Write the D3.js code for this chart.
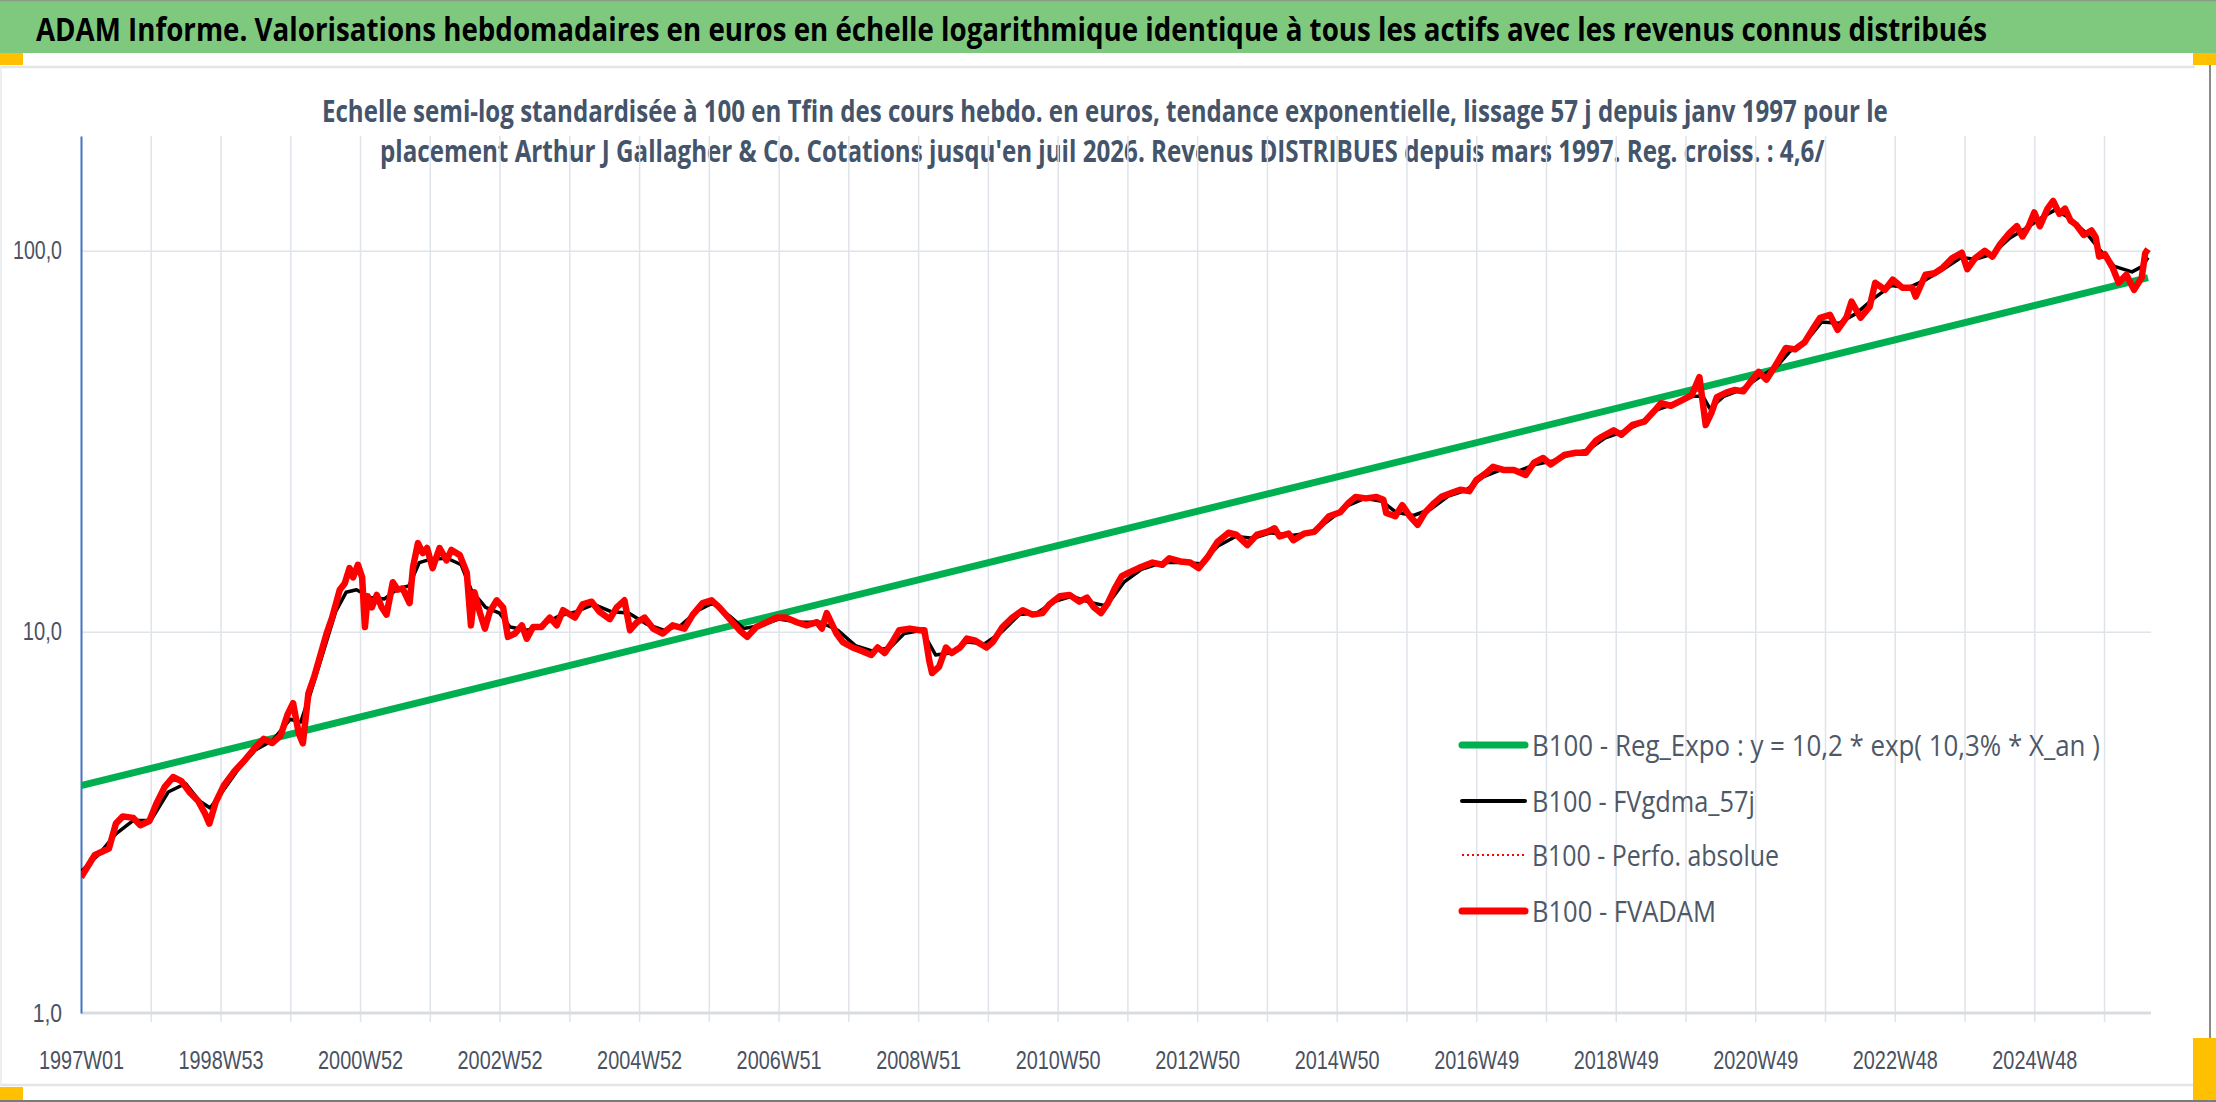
<!DOCTYPE html>
<html>
<head>
<meta charset="utf-8">
<style>
  body { margin: 0; background: #ffffff; }
  svg { display: block; font-family: "Open Sans", "Liberation Sans", sans-serif; }
  .grid line { stroke: #dfe3ea; stroke-width: 1.5; }
  .grid .domain { display: none; }
  .x-labels .domain, .x-labels line { display: none; }
  .x-labels text, .y-axis text { fill: #4a5262; font-size: 25px; }
  .y-axis .domain { stroke: #4472c4; stroke-width: 2; }
  .y-axis line { display: none; }
  .legend text { fill: #4d5868; font-size: 30px; }
</style>
</head>
<body>
<svg class="chart"></svg>
<script src="https://d3js.org/d3.v7.min.js"></script>
<script>
  // FVADAM, weekly values (decimal year, base 100)
  var adamYears = [
    1997.00, 1997.10, 1997.20, 1997.30, 1997.40, 1997.50, 1997.60, 1997.75, 1997.85, 1997.98,
    1998.08, 1998.20, 1998.32, 1998.44, 1998.56, 1998.68, 1998.78, 1998.84, 1998.93, 1999.05,
    1999.20, 1999.33, 1999.50, 1999.62, 1999.74, 1999.86, 1999.96, 2000.04, 2000.12, 2000.18,
    2000.26, 2000.34, 2000.44, 2000.52, 2000.60, 2000.71, 2000.78, 2000.85, 2000.90, 2000.97,
    2001.03, 2001.07, 2001.11, 2001.17, 2001.24, 2001.31, 2001.38, 2001.47, 2001.54, 2001.61,
    2001.71, 2001.76, 2001.83, 2001.90, 2001.96, 2002.04, 2002.14, 2002.24, 2002.31, 2002.43,
    2002.53, 2002.59, 2002.64, 2002.72, 2002.79, 2002.86, 2002.96, 2003.05, 2003.12, 2003.22,
    2003.32, 2003.39, 2003.48, 2003.60, 2003.72, 2003.82, 2003.91, 2004.08, 2004.19, 2004.32,
    2004.43, 2004.58, 2004.68, 2004.79, 2004.87, 2004.97, 2005.08, 2005.20, 2005.34, 2005.48,
    2005.65, 2005.77, 2005.91, 2006.04, 2006.15, 2006.30, 2006.44, 2006.55, 2006.68, 2006.83,
    2006.97, 2007.11, 2007.26, 2007.40, 2007.55, 2007.62, 2007.69, 2007.83, 2007.92, 2008.06,
    2008.20, 2008.33, 2008.42, 2008.52, 2008.63, 2008.73, 2008.88, 2009.02, 2009.09, 2009.16,
    2009.20, 2009.30, 2009.40, 2009.48, 2009.60, 2009.70, 2009.81, 2009.98, 2010.07, 2010.21,
    2010.35, 2010.50, 2010.64, 2010.78, 2010.88, 2011.03, 2011.17, 2011.31, 2011.42, 2011.52,
    2011.62, 2011.72, 2011.82, 2011.92, 2012.02, 2012.16, 2012.36, 2012.50, 2012.60, 2012.76,
    2012.90, 2013.02, 2013.15, 2013.29, 2013.45, 2013.56, 2013.72, 2013.86, 2014.00, 2014.11,
    2014.18, 2014.31, 2014.38, 2014.53, 2014.68, 2014.78, 2014.89, 2015.05, 2015.17, 2015.27,
    2015.42, 2015.57, 2015.67, 2015.71, 2015.84, 2015.94, 2016.05, 2016.16, 2016.26, 2016.40,
    2016.50, 2016.66, 2016.77, 2016.90, 2017.00, 2017.14, 2017.24, 2017.39, 2017.54, 2017.71,
    2017.83, 2017.96, 2018.07, 2018.26, 2018.43, 2018.57, 2018.72, 2018.80, 2018.97, 2019.08,
    2019.24, 2019.41, 2019.57, 2019.65, 2019.79, 2019.96, 2020.09, 2020.20, 2020.29, 2020.37,
    2020.45, 2020.59, 2020.70, 2020.83, 2020.92, 2021.05, 2021.16, 2021.27, 2021.44, 2021.57,
    2021.71, 2021.82, 2021.93, 2022.07, 2022.18, 2022.31, 2022.38, 2022.51, 2022.64, 2022.72,
    2022.86, 2022.97, 2023.11, 2023.25, 2023.30, 2023.44, 2023.57, 2023.68, 2023.82, 2023.96,
    2024.04, 2024.15, 2024.29, 2024.40, 2024.51, 2024.64, 2024.75, 2024.83, 2024.92, 2025.00,
    2025.08, 2025.19, 2025.27, 2025.36, 2025.44, 2025.52, 2025.60, 2025.71, 2025.82, 2025.88,
    2025.93, 2026.01, 2026.12, 2026.21, 2026.32, 2026.43, 2026.54, 2026.59, 2026.63
  ];
  var adamValues = [
    2.27, 2.43, 2.60, 2.65, 2.70, 3.14, 3.28, 3.25, 3.11, 3.19,
    3.54, 3.92, 4.16, 4.06, 3.79, 3.60, 3.33, 3.14, 3.57, 3.96,
    4.31, 4.57, 4.98, 5.24, 5.11, 5.34, 6.06, 6.50, 5.43, 5.10,
    6.90, 7.60, 8.80, 9.90, 10.9, 12.9, 13.4, 14.7, 13.9, 15.0,
    13.9, 10.3, 12.4, 11.6, 12.5, 11.6, 11.1, 13.5, 12.9, 13.0,
    11.9, 14.8, 17.1, 16.1, 16.6, 14.7, 16.6, 15.4, 16.4, 15.9,
    14.3, 10.4, 12.7, 11.2, 10.2, 11.3, 12.1, 11.6, 9.7, 9.9,
    10.4, 9.6, 10.3, 10.3, 10.9, 10.4, 11.4, 10.9, 11.8, 12.0,
    11.3, 10.8, 11.6, 12.1, 10.1, 10.6, 10.9, 10.2, 9.9, 10.4,
    10.2, 11.1, 11.9, 12.1, 11.6, 10.8, 10.1, 9.7, 10.3, 10.6,
    10.9, 10.9, 10.6, 10.4, 10.6, 10.2, 11.2, 9.9, 9.4, 9.1,
    8.9, 8.7, 9.1, 8.8, 9.4, 10.1, 10.2, 10.1, 10.1, 8.4,
    7.8, 8.1, 9.1, 8.8, 9.1, 9.6, 9.5, 9.1, 9.4, 10.3,
    10.9, 11.4, 11.1, 11.2, 11.8, 12.4, 12.5, 12.0, 12.3, 11.6,
    11.2, 11.9, 13.0, 14.0, 14.3, 14.7, 15.2, 15.0, 15.6, 15.3,
    15.2, 14.7, 15.7, 17.2, 18.2, 18.0, 16.9, 18.0, 18.3, 18.7,
    17.8, 18.1, 17.4, 18.1, 18.3, 19.1, 20.1, 20.6, 21.8, 22.6,
    22.4, 22.6, 22.2, 20.5, 20.1, 21.5, 20.1, 19.1, 20.5, 21.8,
    22.6, 23.2, 23.6, 23.4, 25.0, 26.1, 27.1, 26.6, 26.6, 25.8,
    27.8, 28.6, 27.5, 29.1, 29.5, 29.5, 31.8, 32.5, 33.8, 32.9,
    34.9, 35.6, 38.3, 39.8, 39.2, 40.6, 41.8, 46.6, 34.9, 37.5,
    41.3, 42.5, 43.1, 42.8, 45.0, 48.1, 45.9, 49.3, 55.6, 55.1,
    57.6, 62.1, 66.7, 67.9, 62.0, 67.0, 73.5, 66.7, 71.3, 82.4,
    79.0, 84.0, 80.0, 80.0, 75.8, 86.5, 87.3, 90.0, 95.5, 98.8,
    89.5, 95.5, 100, 96.5, 104, 111, 116, 109, 116, 126,
    116, 129, 135, 125, 129, 120, 117, 110, 113, 108.5,
    96.5, 98, 90.5, 82.4, 86.5, 79, 85, 98.5, 101
  ];

  // FVgdma_57j, the smoothed black line
  var smoothYears = [
    1997.00, 1997.25, 1997.50, 1997.75, 1998.00, 1998.25, 1998.50, 1998.70, 1998.85, 1999.00,
    1999.25, 1999.50, 1999.75, 2000.00, 2000.15, 2000.30, 2000.50, 2000.65, 2000.80, 2000.95,
    2001.15, 2001.35, 2001.55, 2001.70, 2001.85, 2002.00, 2002.25, 2002.45, 2002.60, 2002.80,
    2003.00, 2003.15, 2003.40, 2003.60, 2003.85, 2004.10, 2004.35, 2004.60, 2004.85, 2005.10,
    2005.35, 2005.60, 2005.85, 2006.05, 2006.30, 2006.50, 2006.75, 2007.00, 2007.30, 2007.60,
    2007.85, 2008.10, 2008.35, 2008.60, 2008.80, 2009.05, 2009.25, 2009.45, 2009.70, 2009.95,
    2010.20, 2010.45, 2010.70, 2010.95, 2011.20, 2011.50, 2011.70, 2011.95, 2012.20, 2012.50,
    2012.80, 2013.05, 2013.30, 2013.55, 2013.80, 2014.05, 2014.35, 2014.65, 2014.90, 2015.15,
    2015.40, 2015.65, 2015.85, 2016.10, 2016.35, 2016.60, 2016.85, 2017.10, 2017.35, 2017.60,
    2017.85, 2018.10, 2018.35, 2018.60, 2018.85, 2019.10, 2019.35, 2019.60, 2019.85, 2020.10,
    2020.25, 2020.35, 2020.55, 2020.80, 2021.05, 2021.30, 2021.50, 2021.75, 2021.95, 2022.20,
    2022.45, 2022.70, 2022.95, 2023.20, 2023.45, 2023.70, 2023.95, 2024.15, 2024.40, 2024.65,
    2024.90, 2025.10, 2025.30, 2025.50, 2025.75, 2025.95, 2026.15, 2026.40, 2026.55, 2026.63
  ];
  var smoothValues = [
    2.35, 2.60, 2.95, 3.20, 3.20, 3.80, 4.00, 3.60, 3.45, 3.75,
    4.35, 4.90, 5.20, 5.90, 5.80, 7.00, 9.20, 11.3, 12.7, 12.9,
    12.3, 12.2, 13.0, 13.2, 15.2, 15.5, 15.6, 15.0, 12.8, 11.6,
    11.2, 10.3, 10.1, 10.4, 11.0, 11.3, 11.8, 11.3, 11.2, 10.5,
    10.1, 10.4, 11.4, 11.9, 11.0, 10.2, 10.4, 10.8, 10.6, 10.6,
    10.1, 9.2, 8.9, 9.1, 9.9, 10.1, 8.7, 8.8, 9.4, 9.3,
    10.0, 11.1, 11.2, 12.0, 12.4, 11.9, 11.7, 13.5, 14.6, 15.2,
    15.2, 15.1, 16.8, 17.8, 17.6, 18.2, 17.9, 18.2, 19.7, 21.4,
    22.4, 22.0, 20.6, 20.2, 21.0, 22.7, 23.5, 25.5, 26.6, 26.4,
    27.5, 28.1, 29.2, 30.0, 32.3, 33.5, 35.2, 38.3, 39.7, 41.5,
    41.5, 38.5, 41.5, 43.2, 46.5, 49.5, 54.5, 58.5, 65.0, 64.5,
    68.5, 75.0, 81.0, 80.0, 84.0, 89.5, 96.0, 95.0, 98.0, 108,
    115, 122, 128, 122, 111, 100, 91, 88, 91, 96
  ];

  // Reg_Expo : straight line on the log scale, read at both ends
  var regYears = [1997.00, 2026.63];
  var regValues = [3.95, 85];

  var xTickLabels = ['1997W01', '1998W53', '2000W52', '2002W52', '2004W52', '2006W51', '2008W51',
    '2010W50', '2012W50', '2014W50', '2016W49', '2018W49', '2020W49', '2022W48', '2024W48'];
  var yTicks = [1, 10, 100];
  var legendLabels = [
    'B100 - Reg_Expo : y = 10,2 * exp( 10,3% *  X_an )',
    'B100 - FVgdma_57j',
    'B100 - Perfo. absolue',
    'B100 - FVADAM'
  ];

  var title = "ADAM Informe. Valorisations hebdomadaires en euros en échelle logarithmique identique à tous les actifs avec les revenus connus distribués";
  var subtitle1 = "Echelle semi-log standardisée à 100 en Tfin des cours hebdo. en euros, tendance exponentielle, lissage 57 j depuis janv 1997 pour le";
  var subtitle2 = "placement Arthur J Gallagher & Co. Cotations jusqu'en juil 2026. Revenus DISTRIBUES depuis mars 1997. Reg. croiss. : 4,6/";

  var width = 2216;
  var height = 1102;
  var plotLeft = 81, plotRight = 2151, plotTop = 136, plotBottom = 1013;
  var nWeeks = 1543;

  var svg = d3.select(".chart")
    .attr("width", width)
    .attr("height", height);

  // narrow a text horizontally to a given width (the source font is condensed)
  function squeeze(node, len) {
    var w = node.getComputedTextLength();
    var s = len / w;
    var x0 = +node.getAttribute("x") || 0;
    node.setAttribute("x", x0 / s);
    node.setAttribute("transform", "scale(" + s + ",1)");
  }
  function fit(sel, len) {
    sel.each(function() { squeeze(this, len); });
  }

  // frame
  svg.append("rect").attr("x", 0).attr("y", 0).attr("width", width).attr("height", 53)
    .attr("fill", "#7fc97f");
  svg.append("line").attr("x1", 0).attr("x2", width).attr("y1", 0.5).attr("y2", 0.5)
    .attr("stroke", "#8a9a8a").attr("stroke-width", 1.5);
  svg.append("line").attr("x1", 0).attr("x2", 2195).attr("y1", 67).attr("y2", 67)
    .attr("stroke", "#e3e5e8").attr("stroke-width", 2.5);
  svg.append("line").attr("x1", 0).attr("x2", 2195).attr("y1", 1085).attr("y2", 1085)
    .attr("stroke", "#e3e5e8").attr("stroke-width", 2.5);
  svg.append("line").attr("x1", 1).attr("x2", 1).attr("y1", 67).attr("y2", 1085)
    .attr("stroke", "#eceef0").attr("stroke-width", 2);
  svg.append("line").attr("x1", 0).attr("x2", width).attr("y1", 1101).attr("y2", 1101)
    .attr("stroke", "#7a7a7a").attr("stroke-width", 2);
  svg.append("line").attr("x1", 2210).attr("x2", 2210).attr("y1", 53).attr("y2", 1101)
    .attr("stroke", "#8a8a8a").attr("stroke-width", 2);
  svg.append("rect").attr("x", 0).attr("y", 53).attr("width", 23).attr("height", 12).attr("fill", "#ffc000");
  svg.append("rect").attr("x", 2193).attr("y", 53).attr("width", 23).attr("height", 12).attr("fill", "#ffc000");
  svg.append("rect").attr("x", 0).attr("y", 1087).attr("width", 23).attr("height", 13).attr("fill", "#ffc000");
  svg.append("rect").attr("x", 2193).attr("y", 1038).attr("width", 23).attr("height", 62).attr("fill", "#ffc000");

  svg.append("text").attr("x", 36).attr("y", 41)
    .attr("font-size", 32).attr("font-weight", "bold").attr("fill", "#000")
    .text(title).call(fit, 1952);

  svg.append("text").attr("x", 322).attr("y", 122)
    .attr("font-size", 30).attr("font-weight", "bold").attr("fill", "#44546a")
    .text(subtitle1).call(fit, 1567);
  svg.append("text").attr("x", 380).attr("y", 162)
    .attr("font-size", 30).attr("font-weight", "bold").attr("fill", "#44546a")
    .text(subtitle2).call(fit, 1445);

  // scales
  var x = d3.scaleLinear().domain([0, nWeeks]).range([plotLeft, plotRight]);
  var y = d3.scaleLog().domain([1, 200]).range([plotBottom, plotTop]);
  function toWeek(yr) { return (yr - 1997) * 52; }

  // vertical gridlines every 52 weeks, with tick marks below the axis
  var gridWeeks = d3.range(52, nWeeks, 52);
  var gx = svg.append("g").attr("class", "grid")
    .attr("transform", "translate(0," + plotBottom + ")")
    .call(d3.axisBottom(x).tickValues(gridWeeks).tickSize(-(plotBottom - plotTop)).tickFormat(""));
  gx.selectAll("line").attr("y1", 9);

  // horizontal gridlines
  svg.append("g").attr("class", "grid")
    .attr("transform", "translate(" + plotLeft + ",0)")
    .call(d3.axisLeft(y).tickValues([10, 100]).tickSize(-(plotRight - plotLeft)).tickFormat(""));

  svg.append("line").attr("x1", plotLeft).attr("x2", plotRight)
    .attr("y1", y(1)).attr("y2", y(1))
    .attr("stroke", "#d9dde3").attr("stroke-width", 3);

  // x labels every 104 weeks
  var labelWeeks = xTickLabels.map(function(d, i) { return i * 104; });
  var xl = svg.append("g").attr("class", "x-labels")
    .attr("transform", "translate(0," + plotBottom + ")")
    .call(d3.axisBottom(x).tickValues(labelWeeks)
      .tickFormat(function(d, i) { return xTickLabels[i]; })
      .tickSize(0).tickPadding(38));
  xl.selectAll("text").call(fit, 85);

  // y axis
  var ya = svg.append("g").attr("class", "y-axis")
    .attr("transform", "translate(" + plotLeft + ",0)")
    .call(d3.axisLeft(y).tickValues(yTicks)
      .tickFormat(function(d) { return d3.format(".1f")(d).replace(".", ","); })
      .tickSize(0).tickSizeOuter(0).tickPadding(19));
  ya.selectAll("text").each(function() {
    squeeze(this, this.textContent.length * 9.8);
  });

  // series
  svg.append("clipPath").attr("id", "plot-clip")
    .append("rect").attr("x", plotLeft).attr("y", plotTop)
    .attr("width", plotRight - plotLeft).attr("height", plotBottom - plotTop);

  var line = d3.line()
    .x(function(d) { return x(toWeek(d[0])); })
    .y(function(d) { return y(d[1]); });

  var series = svg.append("g").attr("clip-path", "url(#plot-clip)");

  series.append("path")
    .datum(d3.zip(regYears, regValues))
    .attr("d", line).attr("fill", "none")
    .attr("stroke", "#00b050").attr("stroke-width", 7);

  series.append("path")
    .datum(d3.zip(smoothYears, smoothValues))
    .attr("d", line).attr("fill", "none")
    .attr("stroke", "#000000").attr("stroke-width", 3.5)
    .attr("stroke-linejoin", "round");

  series.append("path")
    .datum(d3.zip(adamYears, adamValues))
    .attr("d", line).attr("fill", "none")
    .attr("stroke", "#ff0000").attr("stroke-width", 6.5)
    .attr("stroke-linejoin", "round");

  // legend
  var legendY = [745, 801, 855, 911];
  var legendLens = [568, 223, 247, 184];
  var legendStyles = [
    { color: "#00b050", width: 7, dash: null },
    { color: "#000000", width: 4, dash: null },
    { color: "#ff0000", width: 2, dash: "2,3" },
    { color: "#ff0000", width: 7, dash: null }
  ];
  var legend = svg.append("g").attr("class", "legend");
  var item = legend.selectAll("g").data(legendLabels).enter().append("g")
    .attr("transform", function(d, i) { return "translate(1462," + legendY[i] + ")"; });
  item.append("line")
    .attr("x1", 0).attr("x2", 63).attr("y1", 0).attr("y2", 0)
    .attr("stroke", function(d, i) { return legendStyles[i].color; })
    .attr("stroke-width", function(d, i) { return legendStyles[i].width; })
    .attr("stroke-dasharray", function(d, i) { return legendStyles[i].dash; })
    .attr("stroke-linecap", function(d, i) { return legendStyles[i].dash ? "butt" : "round"; });
  item.append("text")
    .attr("x", 70).attr("y", 0).attr("dy", "0.35em")
    .text(function(d) { return d; })
    .each(function(d, i) { squeeze(this, legendLens[i]); });
</script>
</body>
</html>
